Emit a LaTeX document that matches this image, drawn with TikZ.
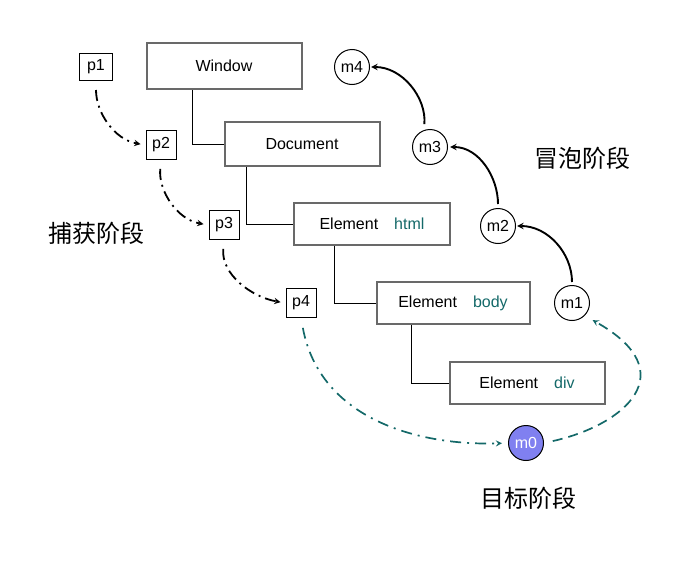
\documentclass[tikz,border=0pt]{standalone}
\usepackage{fontspec}
\setmainfont{Liberation Sans}
\newfontfamily\cjk{Noto Sans CJK SC}
\usepackage{tikz}
\usetikzlibrary{shapes.geometric, arrows, positioning}
\definecolor{tealtxt}{RGB}{20,105,105}
\definecolor{boxgray}{RGB}{105,105,105}
\definecolor{targetfill}{RGB}{128,128,240}
\tikzstyle{levelbox} = [rectangle, draw=boxgray, line width=2pt, minimum width=155pt, minimum height=44pt, text centered, font=\fontsize{16}{19}\selectfont]
\tikzstyle{pbox} = [rectangle, draw=black, line width=1pt, minimum width=30pt, minimum height=29pt, inner sep=0pt, font=\fontsize{16}{19}\selectfont]
\tikzstyle{mcircle} = [circle, draw=black, line width=1pt, minimum size=35pt, inner sep=0pt, font=\fontsize{16}{19}\selectfont]
\tikzstyle{phase} = [font=\cjk\fontsize{24}{28}\selectfont]
\tikzstyle{tree} = [draw, line width=1pt]
\tikzstyle{capture} = [line width=1.8pt, -stealth, dash pattern=on 11pt off 5pt on 2pt off 5pt]
\tikzstyle{bubble} = [line width=1.9pt, -stealth]
\tikzstyle{target} = [line width=1.7pt, -stealth, draw=tealtxt, color=tealtxt]

\begin{document}
\begin{tikzpicture}[x=1pt, y=-1pt]
		\useasboundingbox (0,0) rectangle (679,562);
		\node (win) [levelbox, minimum height=46pt] at (224,66) {Window};
		\node (doc) [levelbox] at (302,144) {Document};
		\node (html) [levelbox, minimum height=42pt, minimum width=156pt] at (372,224) {Element\quad\textcolor{tealtxt}{html}};
		\node (body) [levelbox, minimum height=42pt, minimum width=153pt] at (453,303) {Element\quad\textcolor{tealtxt}{body}};
		\node (div) [levelbox, minimum height=42pt] at (527,383) {Element\quad\textcolor{tealtxt}{div}};

		\node (p1) [pbox, minimum width=33pt, minimum height=27pt] at (96,67) {p1};
		\node (p2) [pbox] at (161,145) {p2};
		\node (p3) [pbox] at (224,225) {p3};
		\node (p4) [pbox] at (301,303) {p4};

		\node (m4) [mcircle] at (352,67) {m4};
		\node (m3) [mcircle] at (430,147) {m3};
		\node (m2) [mcircle] at (498,226) {m2};
		\node (m1) [mcircle] at (572,303) {m1};
		\node (m0) [mcircle, fill=targetfill, text=white] at (526,443) {m0};

		\node (capt) [phase] at (96,233) {捕获阶段};
		\node (bubt) [phase] at (582,158) {冒泡阶段};
		\node (tart) [phase] at (528,498) {目标阶段};

		% Draw edges
		\path [tree] ([xshift=-32pt]win.south) |- (doc.west);
		\path [tree] ([xshift=-56pt]doc.south) |- (html.west);
		\path [tree] ([xshift=-38pt]html.south) |- (body.west);
		\path [tree] ([xshift=-42pt]body.south) |- (div.west);

		\draw [capture, shorten <=9pt, shorten >=5pt] (p1.south) to[out=-90, in=170] (p2.west);
		\draw [capture, shorten <=9pt, shorten >=5pt] (p2.south) to[out=-95, in=170] (p3.west);
		\draw [capture, shorten <=9pt, shorten >=5pt] (p3.south) to[out=-95, in=170] (p4.west);

		\draw [bubble, shorten <=3pt, shorten >=1pt] (m1.north) to[out=90, in=0] (m2.east);
		\draw [bubble, shorten <=4pt, shorten >=2pt] (m2.north) to[out=90, in=0] (m3.east);
		\draw [bubble, shorten <=6pt, shorten >=1pt] (m3.110) to[out=85, in=0] (m4.east);

		\draw [target, dash pattern=on 11pt off 6pt on 2pt off 6pt, shorten <=10pt, shorten >=6pt] (p4.south) .. controls (320,420) and (420,446) .. (m0.west);
		\draw [target, dash pattern=on 10pt off 6pt, shorten <=9pt, shorten >=9pt] (m0.east) .. controls (625,425) and (685,372) .. (m1.south east);
\end{tikzpicture}
\end{document}
